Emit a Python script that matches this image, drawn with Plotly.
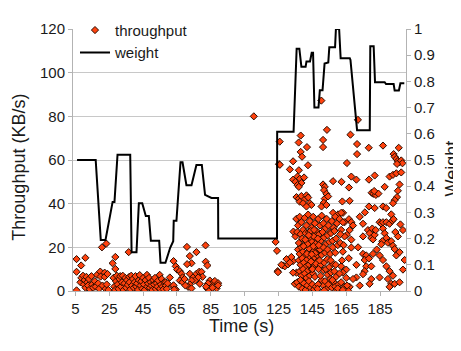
import plotly.graph_objects as go

# ---- weight line (right axis) ----
weight_time = [6, 17, 20, 22.8, 27, 28.1, 29.9, 37.4, 38.2, 41.1,
               42.5, 44.5, 46.6, 48.4, 49.6, 54.5, 55.3, 58.2, 61, 62.8,
               63.1, 64.7, 67.1, 68.3, 70.6, 73.6, 76.5, 79.7, 81.6, 85.4,
               89.3, 89.4, 124.1, 124.2, 133.9, 135.7, 137.3, 138.5, 141, 141.5,
               143.6, 144.6, 145.4, 146.2, 148.6, 149.4, 151, 152.2, 154.4, 155,
               158.4, 158.9, 160.8, 161.7, 167.1, 167.5, 171.4, 178.9, 179.2, 181.2,
               182, 187.7, 188.5, 193, 193.6, 196.1, 197, 199.3]
weight = [0.5, 0.5, 0.195, 0.195, 0.34, 0.34, 0.52, 0.52, 0.148, 0.148,
          0.335, 0.335, 0.286, 0.286, 0.192, 0.192, 0.108, 0.108, 0.165, 0.19,
          0.268, 0.268, 0.491, 0.491, 0.404, 0.404, 0.481, 0.481, 0.367, 0.355,
          0.355, 0.2, 0.2, 0.608, 0.608, 0.925, 0.925, 0.856, 0.856, 0.876,
          0.876, 0.909, 0.909, 0.70, 0.70, 0.766, 0.766, 0.868, 0.872, 0.93,
          0.93, 1.0, 1.0, 0.888, 0.888, 0.882, 0.614, 0.614, 0.934, 0.934,
          0.797, 0.797, 0.79, 0.79, 0.765, 0.765, 0.793, 0.793]

# ---- throughput samples (left axis) ----
# region 5-65 s
time_a = [5.7, 5.7, 8.4, 10.9, 5.7, 8, 8.5, 9.5, 10, 10.5,
          11, 11.5, 12, 12.5, 13, 13.5, 14.5, 15, 15.5, 16.5,
          17, 17.8, 18.5, 19, 19.7, 19.9, 20.7, 23.3, 21, 22.3,
          22.3, 22.8, 23.5, 24, 24.5, 27, 28.6, 28.6, 27.5, 28,
          28.5, 29, 29.5, 30, 30.5, 31, 31.5, 32, 32.5, 33,
          33.5, 34, 34.5, 35, 35.5, 36, 36.5, 36.8, 37, 37.5,
          38, 38.5, 39, 39.5, 40, 40.5, 41, 41.5, 42, 42.5,
          43, 43.5, 44, 44.5, 45, 45.5, 46, 46.5, 47.3, 47.5,
          48, 48.5, 49, 49.5, 50, 50.5, 51, 51.5, 52, 52.5,
          53, 53.5, 54, 54.8, 55, 55.5, 56, 56.5, 57, 57.5,
          58.4, 58.5, 59, 59.5, 60.8, 62.7, 64.3]
thr_a = [14.6, 8.8, 11.7, 15.2, 0.3, 4, 6, 7, 3, 5,
         1.5, 6.5, 4, 2.5, 5.5, 0.8, 6.8, 3, 1.5, 4.5,
         2, 7.4, 3.5, 1, 8.9, 6.6, 20, 21.7, 2.5, 8.4,
         6.5, 1, 3, 7.8, 0.5, 12.7, 15.6, 10.1, 6, 2,
         0.5, 4.5, 7, 3, 1, 5.5, 6.8, 2, 4, 7,
         0.5, 3.5, 6, 1.5, 5, 2.8, 17.8, 6.5, 4, 0.8,
         7, 2.5, 5.5, 1.5, 4, 6.8, 2, 3.5, 0.5, 5,
         7.3, 2.5, 4.5, 1, 6, 3, 0.5, 5, 7.4, 2,
         3.5, 6, 1.5, 4, 2.5, 0.5, 5, 3, 6, 1,
         3.5, 2, 4.8, 7.4, 1, 3, 5.5, 2, 0.8, 4,
         4, 2.5, 1, 3.5, 6.2, 2.2, 0.7]

# region 63-90 s
time_b = [63, 70.9, 81.9, 72.6, 76.5, 73.6, 71, 82, 83, 64.3,
          65.1, 66.7, 67.7, 68.3, 66.7, 68.3, 63, 63.4, 72.6, 74.5,
          76.5, 78.1, 79.5, 80.1, 77.5, 75.5, 73.6, 72.6, 71.6, 73.6,
          78.5, 84.4, 86.4, 84.4, 87.4, 89.3, 88.4, 82.8, 84, 89.3,
          83.4, 82.2, 70, 69.5, 86]
thr_b = [13.7, 20.2, 20.9, 16, 17.8, 12.7, 12.3, 13.4, 11.7, 11.3,
         9.8, 9.1, 7.9, 6.2, 4.8, 4, 2.6, 0.7, 7.9, 6.2,
         7.9, 8.8, 8.8, 6.5, 6.2, 4.8, 4.8, 3, 1.9, 1.2,
         3.3, 4.8, 4.0, 2.6, 4.6, 3.6, 1.2, 1.2, 0.1, 2.6,
         3.5, 2.0, 2.5, 5.5, 1.5]

# region 110-136 s
time_c = [110.4, 123.3, 124.1, 124.5, 124.7, 127.7, 125.7, 125.3, 129.7, 133.6,
          128.7, 130.6, 131.7, 132.6, 126.7, 135.6, 133.6, 134.6, 133.8]
thr_c = [80, 22.5, 18.4, 9.1, 8.6, 11.7, 68.4, 58.1, 14.6, 13.7,
         11.3, 12.2, 13, 15.6, 12, 8.4, 8.4, 3.3, 27.2]

# high values (35-90 KB/s), 125-200 s
time_h = [138.1, 136.9, 141.8, 138.1, 138.9, 133.6, 142.4, 150.3, 153.6, 151.3,
          151.3, 171.9, 167.5, 171.4, 171.4, 178.3, 186.7, 196, 193, 193.6,
          194.6, 195.5, 196.5, 197.5, 198.2, 195, 165.4, 125.8, 131.7, 137,
          136.2, 137.6, 140.1, 133.6, 135, 138.5, 136.2, 137, 151.3, 152.3,
          151.9, 153.3, 152.3, 154.3, 151.7, 162.2, 135.6, 137, 138.5, 141.5,
          142.5, 140, 137.5, 139.5, 143.5, 144.4, 141.5, 150.4, 153.3, 157.2,
          160.2, 163.1, 157.2, 162.7, 167, 168, 171, 166.6, 178.4, 181.8,
          187.7, 180, 181, 182.5, 184, 181.5, 190.6, 192.6, 194.6, 197.5,
          196.5, 195.5, 195, 193.6, 192.6, 178.4, 181.8, 186.7, 188.6]
thr_h = [71.2, 68, 65.9, 63.7, 61.5, 59.4, 57.6, 87.2, 73.8, 69.2,
         65.9, 78.4, 71.6, 67.3, 62.7, 65.6, 66.6, 65.6, 62.7, 61.5,
         60.5, 59.5, 59, 59.8, 58.5, 58.2, 58.6, 57.8, 55.7, 55.3,
         52.4, 51.4, 52, 51, 50, 49.5, 48.5, 47.7, 48.8, 47.7,
         46.2, 44.5, 42.3, 43.3, 40.4, 50, 43, 42.3, 43.5, 43.8,
         42.8, 41.6, 40.9, 40.2, 40.2, 39.4, 38.7, 38.7, 39.4, 35.8,
         35.1, 35.8, 50.3, 41, 41.3, 52.4, 51, 47.4, 51, 52.9,
         47.7, 45, 44.5, 44, 44.6, 45.8, 52.4, 53.2, 53.9, 54.3,
         48.8, 45.9, 43, 41.6, 40.2, 38.7, 38, 38.7, 38]

# dense block 135-148 s
time_d1 = [135.5, 136.5, 137.5, 138.5, 139.5, 140.5, 141.5, 142.5, 143.5, 144.5, 145.5, 146.5, 147.5,
           135, 136, 137, 138, 139, 140, 141, 142, 143, 144, 145, 146, 147,
           136.5, 137.5, 138.5, 139.5, 140.5, 141.5, 142.5, 143.5, 144.5, 145.5, 146.5, 147.5,
           137, 138, 139, 140, 141, 142, 143, 144, 145, 146, 147,
           137.5, 138.5, 139.5, 140.5, 141.5, 142.5, 143.5, 144.5, 145.5, 146.5,
           136, 137, 138, 139, 140, 141, 142, 143, 144, 145, 146, 147,
           143.2, 143.8, 144.2, 144.8, 145.2, 145.8, 146.2, 146.8, 147.2, 144, 145, 146, 143, 147.8,
           142.8, 141.8, 142.2, 140.8, 139.8, 145.6, 146.6, 144.6]
thr_d1 = [33, 30, 34, 31.5, 28, 33.5, 30, 35, 32, 29, 34, 31, 27.5,
          25, 27, 22, 26, 24, 21, 26.5, 23, 27, 24.5, 22, 26, 23.5,
          19, 17, 20, 18, 16, 20.5, 18, 21, 19, 17, 20, 18,
          14, 12, 15, 13, 11, 14.5, 12, 15.5, 13, 11.5, 14,
          9, 7, 10, 8, 6, 9.5, 7, 10, 8, 6.5,
          4, 2, 5, 1, 3.5, 0.5, 2.5, 4.5, 1.5, 3, 0.8, 2,
          16, 24, 13.5, 22.5, 18.5, 25, 15.5, 21.5, 12.5, 27.5, 10, 28, 19.5, 16.5,
          25.5, 17, 21.5, 23.5, 20.5, 20.5, 17.3, 16.8]

# dense block 148-170 s
time_d2 = [148.5, 149.5, 150.5, 151.5, 152.5, 153.5, 154.5, 155.5, 156.5, 157.5, 158.5, 159.5,
           149, 150, 151, 152, 153, 154, 155, 156, 157, 158, 159, 160,
           149.5, 150.5, 151.5, 152.5, 154, 155.5, 157, 158.5,
           150, 151.5, 152, 153, 154, 155, 156, 157, 158, 159,
           150.5, 151.5, 152.5, 153.5, 154.5, 155.5, 156.5, 157.5, 158.5, 159.5, 160.5,
           148.2, 148.8, 149.2, 148.6, 149.8, 148.4, 153.8, 155.8, 156.8, 158.8,
           162, 166.6, 168, 167, 165.4, 168, 169, 164, 165, 163,
           162, 167, 166, 168, 171, 169, 161, 162, 163, 164,
           161.5, 163.5, 162.5, 161, 162, 164, 165, 166.5, 161.5, 163,
           148, 152, 160, 163, 165.5]
thr_d2 = [33, 30, 34.5, 31, 28.5, 33, 30, 27, 32, 29, 34, 31,
          26, 23, 27, 24.5, 21.5, 25.5, 22.5, 26.5, 23, 27.5, 24, 21,
          19, 16.5, 20, 17.5, 19, 17, 20, 17.5,
          12, 9.5, 13, 10, 7.5, 11, 8.5, 12.5, 9, 6.5,
          5, 2.5, 4.5, 1, 3, 5.5, 1.5, 4, 2, 0.5, 3,
          24, 21, 14, 10, 7, 3, 14.5, 14, 5, 12,
          35.8, 32.9, 31.5, 27.9, 25.7, 23.5, 30, 31.5, 9.8, 8.4,
          11.3, 1.9, 0.3, 19.9, 6.2, 5.5, 33, 28, 31.5, 25,
          22, 21, 14, 8, 4, 2, 6, 15, 26, 18,
          1, 0.3, 1.2, 0.5, 2.5]

# scattered block 170-200 s
time_d4 = [174.9, 174.9, 177.8, 178.8, 179.8, 180.8, 181.8, 180.4, 182.4, 184.7,
           185.7, 186.7, 188.7, 190.6, 192.2, 191.6, 193, 186.7, 187.7, 188.7,
           186.3, 185.7, 189.6, 191.6, 192.6, 193.6, 198.5, 174.9, 176.8, 175.9,
           178.4, 180.8, 176.8, 175.9, 179.8, 184.7, 186.7, 188.7, 190.6, 192.6,
           189.6, 191.6, 193.6, 184.7, 179.8, 178.8, 174.9, 198.5, 199.5, 194.6,
           196.5, 196.5, 190.6, 172, 173, 176, 171, 173, 183, 195.5,
           197, 194]
thr_d4 = [30.8, 25, 27.9, 26.4, 24.3, 23.6, 25.7, 28.6, 27.9, 31.5,
          30.8, 31.5, 31.5, 30.8, 32.2, 35.1, 32.9, 28.6, 26.4, 24.3,
          22.8, 21.4, 22.1, 22.8, 20.7, 19.2, 27.9, 17, 16.3, 14.2,
          14.9, 17, 11.3, 9.1, 11.3, 16.3, 14.2, 11.3, 9.1, 7,
          5.5, 3.3, 3.3, 6.2, 5.5, 3.3, 7.7, 9.8, 14.2, 16.3,
          17.8, 4, 1.9, 20, 34, 36, 12, 2.5, 19, 25,
          30.5, 27]

time_s = time_a + time_b + time_c + time_h + time_d1 + time_d2 + time_d4
throughput = thr_a + thr_b + thr_c + thr_h + thr_d1 + thr_d2 + thr_d4

x_ticks = [5, 25, 45, 65, 85, 105, 125, 145, 165, 185]

FONT = "Liberation Sans, Arial, sans-serif"
TXT = "#1a1a1a"
AX = "#b3b3b3"

fig = go.Figure()
fig.add_trace(go.Scatter(
    x=weight_time, y=weight, yaxis="y2", mode="lines", name="weight",
    line=dict(color="black", width=2), legendrank=2))
fig.add_trace(go.Scatter(
    x=time_s, y=throughput, mode="markers", name="throughput",
    marker=dict(symbol="diamond", size=5.5, color="#ff420e",
                line=dict(color="#2a0c00", width=1)), legendrank=1))

# the page body adds an 8px offset, so the figure is 8px smaller than the window
fig.update_layout(
    width=453, height=343,
    margin=dict(l=65, r=55, t=6, b=60),
    paper_bgcolor="white", plot_bgcolor="white",
    font=dict(family=FONT, size=15, color=TXT),
    showlegend=True,
    legend=dict(x=0.006, y=1.058, xanchor="left", yanchor="top",
                bgcolor="rgba(0,0,0,0)", font=dict(size=15), tracegroupgap=0),
    xaxis=dict(range=[3.6, 200.3], tickvals=x_ticks, showgrid=False, zeroline=False,
               showline=True, linecolor=AX, linewidth=1, ticks="outside", ticklen=4,
               tickcolor=AX, tickfont=dict(size=15), automargin=False),
    yaxis=dict(range=[0, 120], dtick=20, showgrid=True, gridcolor="#c8c8c8", zeroline=False,
               showline=True, linecolor=AX, linewidth=1, ticks="outside", ticklen=4,
               tickcolor=AX, tickfont=dict(size=15), automargin=False),
    yaxis2=dict(range=[0, 1], dtick=0.1, overlaying="y", side="right", showgrid=False,
                zeroline=False, showline=True, linecolor=AX, linewidth=1, ticks="outside",
                ticklen=4, tickcolor=AX, tickfont=dict(size=15), automargin=False),
    annotations=[
        dict(text="Throughput (KB/s)", xref="paper", yref="paper", x=-0.162, y=0.471,
             textangle=-90, showarrow=False, xanchor="center", yanchor="middle",
             font=dict(size=18)),
        dict(text="Time (s)", xref="paper", yref="paper", x=0.505, y=-0.134,
             showarrow=False, xanchor="center", yanchor="middle", font=dict(size=18)),
        dict(text="Weight", xref="paper", yref="paper", x=1.138, y=0.4675,
             textangle=-90, showarrow=False, xanchor="center", yanchor="middle",
             font=dict(size=18)),
    ],
)

fig.write_html("out.html")
